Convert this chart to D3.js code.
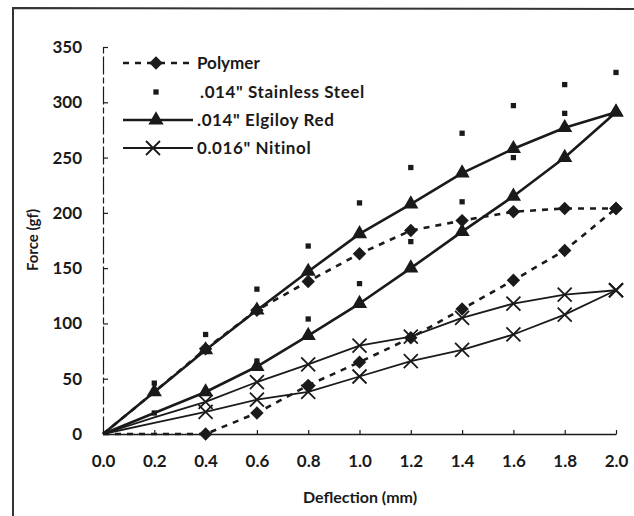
<!DOCTYPE html>
<html>
<head>
<meta charset="utf-8">
<script src="https://cdn.jsdelivr.net/npm/d3@7/dist/d3.min.js"></script>
<style>
  html, body { margin: 0; padding: 0; background: #fff; }
  svg { display: block; }
  text { font-family: Lato, "Liberation Sans", sans-serif; fill: #1a1a1a; }
</style>
</head>
<body>
<svg id="chart" width="634" height="516"></svg>
<script>
// ---- data ----
const deflection = [0, 0.2, 0.4, 0.6, 0.8, 1.0, 1.2, 1.4, 1.6, 1.8, 2.0];
const xTicks = [0, 0.2, 0.4, 0.6, 0.8, 1.0, 1.2, 1.4, 1.6, 1.8, 2.0];
const yTicks = [0, 50, 100, 150, 200, 250, 300, 350];

const polymerLoad    = [0, 38, 77, 112, 138, 163, 184, 193, 201, 204, 204];
const polymerUnload  = [0, 0, 0, 19, 44, 65, 87, 113, 139, 166, 204];
const elgiloyLoad    = [0, 38, 76, 112, 147, 181, 208, 236, 258, 277, 291];
const elgiloyUnload  = [0, 19, 38, 61, 89, 118, 150, 183, 215, 250, 291];
const nitinolLoad    = [0, 15, 29, 47, 63, 80, 88, 105, 118, 126, 130];
const nitinolUnload  = [0, 10, 20, 31, 38, 52, 66, 76, 90, 108, 130];
// stainless steel: points only (null = not shown)
const steelLoad      = [null, 46, 90, 131, 170, 209, 241, 272, 297, 316, 327];
const steelUnload    = [null, 19, null, 66, 104, 136, 174, 210, 250, 290, null];

const legendLabels = ["Polymer", ".014\" Stainless Steel", ".014\" Elgiloy Red", "0.016\" Nitinol"];
const xTitle = "Deflection (mm)";
const yTitle = "Force (gf)";

// ---- layout ----
const svg = d3.select("#chart");
const ink = "#1a1a1a";
const x = d3.scaleLinear().domain([0, 2]).range([103, 616]);
const y = d3.scaleLinear().domain([0, 350]).range([434, 47]);

// scanned-page frame
svg.append("path").attr("d", "M13,516 L13,8 L634,9")
  .attr("fill", "none").attr("stroke", "#333").attr("stroke-width", 2);

// axes
const xAxis = d3.axisBottom(x).tickValues(xTicks).tickFormat(d3.format(".1f")).tickSizeInner(-4).tickSizeOuter(0).tickPadding(21);
const gx = svg.append("g").attr("transform", `translate(0,${y(0)})`).call(xAxis);
gx.select(".domain").attr("stroke", ink).attr("stroke-width", 1.3);
gx.selectAll(".tick line").attr("stroke", ink).attr("stroke-width", 1.2);
gx.selectAll(".tick text").attr("font-size", 17).attr("font-family", "Lato, sans-serif").attr("font-weight", 700).attr("fill", ink);

const yAxis = d3.axisLeft(y).tickValues(yTicks).tickSizeInner(-5).tickSizeOuter(0).tickPadding(21);
const gy = svg.append("g").attr("transform", `translate(${x(0)},0)`).call(yAxis);
gy.select(".domain").attr("stroke", ink).attr("stroke-width", 1.2).attr("stroke-dasharray", "18,3,6,3");
gy.selectAll(".tick line").attr("stroke", ink).attr("stroke-width", 1.2);
gy.selectAll(".tick text").attr("font-size", 17).attr("font-family", "Lato, sans-serif").attr("font-weight", 700).attr("fill", ink);

svg.append("text").attr("x", 360).attr("y", 503).attr("text-anchor", "middle")
  .attr("font-size", 16).attr("font-weight", 700).text(xTitle);
svg.append("text").attr("transform", "translate(38,240) rotate(-90)").attr("text-anchor", "middle")
  .attr("font-size", 15).attr("font-weight", 700).text(yTitle);

// ---- series ----
const pts = arr => deflection.map((d, i) => [d, arr[i]]).filter(p => p[1] !== null);
const line = d3.line().x(p => x(p[0])).y(p => y(p[1]));

const plot = svg.append("g");
function drawLine(arr, width, dash) {
  plot.append("path").datum(pts(arr)).attr("d", line)
    .attr("fill", "none").attr("stroke", ink).attr("stroke-width", width)
    .attr("stroke-dasharray", dash || null).attr("stroke-linejoin", "round");
}
drawLine(nitinolLoad, 1.8);
drawLine(nitinolUnload, 1.8);
drawLine(elgiloyLoad, 2.6);
drawLine(elgiloyUnload, 2.6);
drawLine(polymerLoad, 2.6, "6,6");
drawLine(polymerUnload, 2.6, "6,6");

const sym = {
  diamond: d3.symbol().type(d3.symbolDiamond2).size(115),
  triangle: d3.symbol().type(d3.symbolTriangle).size(100),
  square: d3.symbol().type(d3.symbolSquare).size(28),
};
function drawMarkers(arr, kind, minX) {
  pts(arr).filter(p => p[0] >= minX).forEach(p => {
    const g = plot.append("g").attr("transform", `translate(${x(p[0])},${y(p[1])})`);
    if (kind === "cross") {
      g.append("path").attr("d", "M-7,-7L7,7M-7,7L7,-7").attr("stroke", ink).attr("stroke-width", 1.8).attr("fill", "none");
    } else {
      g.append("path").attr("d", sym[kind]()).attr("fill", ink);
    }
  });
}
drawMarkers(nitinolLoad, "cross", 0.4);
drawMarkers(nitinolUnload, "cross", 0.4);
drawMarkers(elgiloyLoad, "triangle", 0.2);
drawMarkers(elgiloyUnload, "triangle", 0.4);
drawMarkers(polymerLoad, "diamond", 0.4);
drawMarkers(polymerUnload, "diamond", 0.4);
drawMarkers(steelLoad, "square", 0);
drawMarkers(steelUnload, "square", 0);

// ---- legend ----
const leg = svg.append("g");
const rows = [63, 92, 120, 148];
const lx0 = 123, lx1 = 193, lm = 156, lt = 197;
// Polymer
leg.append("line").attr("x1", lx0).attr("x2", lx1).attr("y1", rows[0]).attr("y2", rows[0])
  .attr("stroke", ink).attr("stroke-width", 2.6).attr("stroke-dasharray", "6,6");
leg.append("path").attr("transform", `translate(${lm},${rows[0]})`).attr("d", sym.diamond()).attr("fill", ink);
// Steel
leg.append("path").attr("transform", `translate(${lm},${rows[1]})`).attr("d", sym.square()).attr("fill", ink);
// Elgiloy
leg.append("line").attr("x1", lx0).attr("x2", lx1).attr("y1", rows[2]).attr("y2", rows[2])
  .attr("stroke", ink).attr("stroke-width", 2.6);
leg.append("path").attr("transform", `translate(${lm},${rows[2]})`).attr("d", sym.triangle()).attr("fill", ink);
// Nitinol
leg.append("line").attr("x1", lx0).attr("x2", lx1).attr("y1", rows[3]).attr("y2", rows[3])
  .attr("stroke", ink).attr("stroke-width", 1.8);
leg.append("path").attr("transform", `translate(${lm - 3},${rows[3]})`).attr("d", "M-7,-7L7,7M-7,7L7,-7")
  .attr("stroke", ink).attr("stroke-width", 1.8);

legendLabels.forEach((t, i) => {
  leg.append("text").attr("x", lt + (i === 1 ? 3 : 0)).attr("y", rows[i]).attr("dy", "0.35em")
    .attr("font-size", 17).attr("font-weight", 700).attr("letter-spacing", i === 0 ? 0 : 0.6).text(t);
});
</script>
</body>
</html>
